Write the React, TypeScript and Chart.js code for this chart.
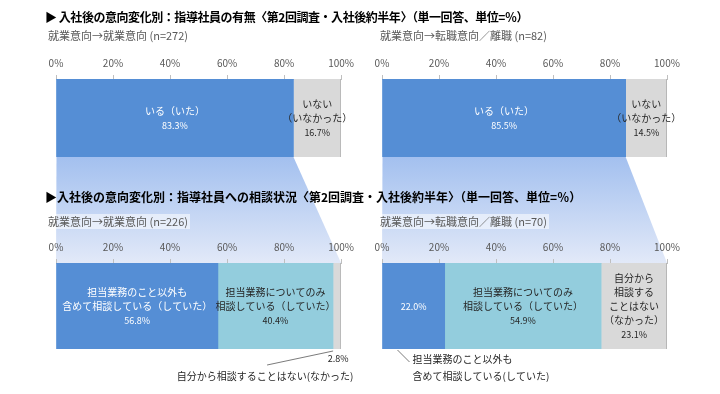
import React, { useEffect, useRef } from "react";
import { Chart, registerables } from "chart.js";

Chart.register(...registerables);

const FONT = '"Noto Sans CJK JP", "Noto Sans", sans-serif';

// ---------- text & data ----------
const titleTop = "▶ 入社後の意向変化別：指導社員の有無〈第2回調査・入社後約半年〉（単一回答、単位=％）";
const titleBottom = "▶入社後の意向変化別：指導社員への相談状況〈第2回調査・入社後約半年〉（単一回答、単位=％）";

const axisMin = 0;
const axisMax = 100;
const axisStep = 20;
const tickSuffix = "%";

const topGroups = ["就業意向→就業意向 (n=272)", "就業意向→転職意向／離職 (n=82)"];
const topSeries = ["いる（いた）", "いない（いなかった）"];
const topHas = [83.3, 85.5];
const topHasNot = [16.7, 14.5];

const bottomGroups = ["就業意向→就業意向 (n=226)", "就業意向→転職意向／離職 (n=70)"];
const bottomSeries = [
  "担当業務のこと以外も含めて相談している（していた）",
  "担当業務についてのみ相談している（していた）",
  "自分から相談することはない（なかった）",
];
const consultAll = [56.8, 22.0];
const consultOnly = [40.4, 54.9];
const consultNone = [2.8, 23.1];

// label line breaks
const hasLines = ["いる（いた）"];
const hasNotLines = ["いない", "（いなかった）"];
const allLines = ["担当業務のこと以外も", "含めて相談している（していた）"];
const allCalloutLines = ["担当業務のこと以外も", "含めて相談している(していた)"];
const onlyLines = ["担当業務についてのみ", "相談している（していた）"];
const noneLines = ["自分から", "相談する", "ことはない", "（なかった）"];
const noneCalloutLines = ["自分から相談することはない(なかった)"];

// ---------- styles ----------
const BLUE = "#558ED5";
const LIGHT = "#93CDDD";
const GRAY = "#D9D9D9";
const DARK_TEXT = "#262626";
const NAME_FONT = `10px ${FONT}`;
const VALUE_FONT = `9px ${FONT}`;

type Mode = "inside" | "calloutLeft" | "calloutRight";
type Seg = {
  label: string;
  value: number;
  color: string;
  text: string;
  lines: string[];
  mode: Mode;
  edge?: boolean;
};
type Panel = {
  left: number;
  top: number;
  width: number;
  height: number;
  pad: { top: number; left: number; right: number; bottom: number };
  group: string;
  segs: Seg[];
};

const panels: Panel[] = [
  {
    left: 40, top: 51, width: 320, height: 108,
    pad: { top: 0, left: 16, right: 18, bottom: 2 },
    group: topGroups[0],
    segs: [
      { label: topSeries[0], value: topHas[0], color: BLUE, text: "#fff", lines: hasLines, mode: "inside" },
      { label: topSeries[1], value: topHasNot[0], color: GRAY, text: DARK_TEXT, lines: hasNotLines, mode: "inside", edge: true },
    ],
  },
  {
    left: 366, top: 51, width: 340, height: 108,
    pad: { top: 0, left: 16, right: 39, bottom: 2 },
    group: topGroups[1],
    segs: [
      { label: topSeries[0], value: topHas[1], color: BLUE, text: "#fff", lines: hasLines, mode: "inside" },
      { label: topSeries[1], value: topHasNot[1], color: GRAY, text: DARK_TEXT, lines: hasNotLines, mode: "inside", edge: true },
    ],
  },
  {
    left: 40, top: 235, width: 320, height: 154,
    pad: { top: 0, left: 16, right: 18, bottom: 40 },
    group: bottomGroups[0],
    segs: [
      { label: bottomSeries[0], value: consultAll[0], color: BLUE, text: "#fff", lines: allLines, mode: "inside" },
      { label: bottomSeries[1], value: consultOnly[0], color: LIGHT, text: DARK_TEXT, lines: onlyLines, mode: "inside" },
      { label: bottomSeries[2], value: consultNone[0], color: GRAY, text: DARK_TEXT, lines: noneCalloutLines, mode: "calloutLeft", edge: true },
    ],
  },
  {
    left: 366, top: 235, width: 340, height: 154,
    pad: { top: 0, left: 16, right: 39, bottom: 40 },
    group: bottomGroups[1],
    segs: [
      { label: bottomSeries[0], value: consultAll[1], color: BLUE, text: "#fff", lines: allCalloutLines, mode: "calloutRight" },
      { label: bottomSeries[1], value: consultOnly[1], color: LIGHT, text: DARK_TEXT, lines: onlyLines, mode: "inside" },
      { label: bottomSeries[2], value: consultNone[1], color: GRAY, text: DARK_TEXT, lines: noneLines, mode: "inside", edge: true },
    ],
  },
];

function makeLabelPlugin(segs: Seg[]) {
  return {
    id: "segLabels",
    afterDatasetsDraw(chart: any) {
      const ctx: CanvasRenderingContext2D = chart.ctx;
      segs.forEach((s, di) => {
        const el: any = chart.getDatasetMeta(di).data[0];
        if (!el) return;
        const left = Math.min(el.x, el.base);
        const right = Math.max(el.x, el.base);
        const cx = (left + right) / 2;
        const cy = el.y;
        const bottom = el.y + el.height / 2;
        const v = chart.data.datasets[di].data[0] as number;
        const valueText = v.toFixed(1) + "%";
        ctx.save();
        ctx.textBaseline = "middle";
        const lh = 14;
        if (s.mode === "inside" || s.mode === "calloutRight") {
          const items =
            s.mode === "inside"
              ? [...s.lines.map((t) => ({ t, f: NAME_FONT })), { t: valueText, f: VALUE_FONT }]
              : [{ t: valueText, f: VALUE_FONT }];
          const start = cy + 0.5 - ((items.length - 1) * lh) / 2;
          ctx.fillStyle = s.text;
          ctx.textAlign = "center";
          items.forEach((it, k) => {
            ctx.font = it.f;
            ctx.fillText(it.t, cx, start + k * lh);
          });
        }
        ctx.strokeStyle = "#595959";
        ctx.lineWidth = 0.8;
        ctx.fillStyle = DARK_TEXT;
        if (s.mode === "calloutLeft") {
          ctx.font = VALUE_FONT;
          ctx.textAlign = "center";
          ctx.fillText(valueText, cx + 1, bottom + 10);
          ctx.beginPath();
          ctx.moveTo(cx - 4, bottom + 2);
          ctx.lineTo(cx - 70, bottom + 16);
          ctx.stroke();
          ctx.font = NAME_FONT;
          s.lines.forEach((t, k) => ctx.fillText(t, cx - 72, bottom + 27 + k * 16));
        }
        if (s.mode === "calloutRight") {
          ctx.beginPath();
          ctx.moveTo(left + 15, bottom + 1);
          ctx.lineTo(left + 27, bottom + 13);
          ctx.stroke();
          ctx.font = NAME_FONT;
          ctx.textAlign = "left";
          s.lines.forEach((t, k) => ctx.fillText(t, left + 30, bottom + 10 + k * 17));
        }
        ctx.restore();
      });
    },
  };
}

function makeConfig(p: Panel): any {
  return {
    type: "bar",
    data: {
      labels: [p.group],
      datasets: p.segs.map((s) => ({
        label: s.label,
        data: [s.value],
        backgroundColor: s.color,
        borderColor: "#A6A6A6",
        borderWidth: s.edge ? { top: 0, left: 0, bottom: 0, right: 1 } : 0,
        borderSkipped: false,
        barPercentage: 1,
        categoryPercentage: 1,
      })),
    },
    options: {
      indexAxis: "y",
      responsive: false,
      animation: false,
      devicePixelRatio: 1,
      layout: { padding: p.pad },
      plugins: { legend: { display: false }, tooltip: { enabled: false } },
      scales: {
        x: {
          position: "top",
          stacked: true,
          min: axisMin,
          max: axisMax,
          ticks: {
            stepSize: axisStep,
            padding: 6,
            color: "#595959",
            font: { size: 10, family: FONT },
            callback: (v: any) => v + tickSuffix,
          },
          grid: { drawOnChartArea: false, tickLength: 4, color: "#BFBFBF" },
          border: { display: true, color: "#BFBFBF" },
        },
        y: { stacked: true, display: false },
      },
    },
    plugins: [makeLabelPlugin(p.segs)],
  };
}

const titleStyle = (top: number, spacing: number): React.CSSProperties => ({
  position: "absolute",
  left: 45,
  top,
  lineHeight: "16px",
  fontSize: 12,
  fontWeight: 700,
  color: "#000",
  whiteSpace: "nowrap",
  fontFamily: FONT,
  letterSpacing: spacing,
});

const subStyle = (left: number, top: number, bg: boolean): React.CSSProperties => ({
  position: "absolute",
  left,
  top,
  lineHeight: "15px",
  fontSize: 11,
  color: "#595959",
  whiteSpace: "nowrap",
  fontFamily: FONT,
  background: bg ? "rgba(255,255,255,0.55)" : "transparent",
  padding: "0 2px",
});

export default function App() {
  const bgRef = useRef<HTMLCanvasElement | null>(null);
  const canvasRefs = useRef<(HTMLCanvasElement | null)[]>([]);

  useEffect(() => {
    document.body.style.margin = "0";
    Chart.defaults.font.family = FONT;
    const charts = panels.map((p, i) => new Chart(canvasRefs.current[i] as HTMLCanvasElement, makeConfig(p)));

    // connector bands from upper "いる" bar to lower chart
    const bg = bgRef.current;
    if (bg) {
      const ctx = bg.getContext("2d") as CanvasRenderingContext2D;
      ctx.clearRect(0, 0, bg.width, bg.height);
      [
        [0, 2],
        [1, 3],
      ].forEach(([a, b]) => {
        const pa = panels[a];
        const pb = panels[b];
        const el: any = charts[a].getDatasetMeta(0).data[0];
        const x0 = pa.left + Math.min(el.x, el.base);
        const x1 = pa.left + Math.max(el.x, el.base);
        const y0 = pa.top + el.y + el.height / 2;
        const sx: any = charts[b].scales.x;
        const bx0 = pb.left + sx.getPixelForValue(axisMin);
        const bx1 = pb.left + sx.getPixelForValue(axisMax);
        const by = pb.top + charts[b].chartArea.top;
        const g = ctx.createLinearGradient(0, y0, 0, by);
        g.addColorStop(0, "#A3C0EF");
        g.addColorStop(1, "#E2E9F8");
        ctx.fillStyle = g;
        ctx.beginPath();
        ctx.moveTo(x0, y0);
        ctx.lineTo(x1, y0);
        ctx.lineTo(bx1, by);
        ctx.lineTo(bx0, by);
        ctx.closePath();
        ctx.fill();
      });
    }
    return () => charts.forEach((c) => c.destroy());
  }, []);

  return (
    <div
      style={{
        position: "fixed",
        left: 0,
        top: 0,
        width: 720,
        height: 394,
        background: "#fff",
        overflow: "hidden",
        fontFamily: FONT,
      }}
    >
      <canvas ref={bgRef} width={720} height={394} style={{ position: "absolute", left: 0, top: 0 }} />
      {panels.map((p, i) => (
        <canvas
          key={i}
          ref={(el) => {
            canvasRefs.current[i] = el;
          }}
          width={p.width}
          height={p.height}
          style={{ position: "absolute", left: p.left, top: p.top, width: p.width, height: p.height }}
        />
      ))}
      <div style={titleStyle(9, -0.45)}>{titleTop}</div>
      <div style={subStyle(46, 28, false)}>{topGroups[0]}</div>
      <div style={subStyle(378, 28, false)}>{topGroups[1]}</div>
      <div style={titleStyle(189, 0)}>{titleBottom}</div>
      <div style={subStyle(46, 214, true)}>{bottomGroups[0]}</div>
      <div style={subStyle(378, 214, true)}>{bottomGroups[1]}</div>
    </div>
  );
}
